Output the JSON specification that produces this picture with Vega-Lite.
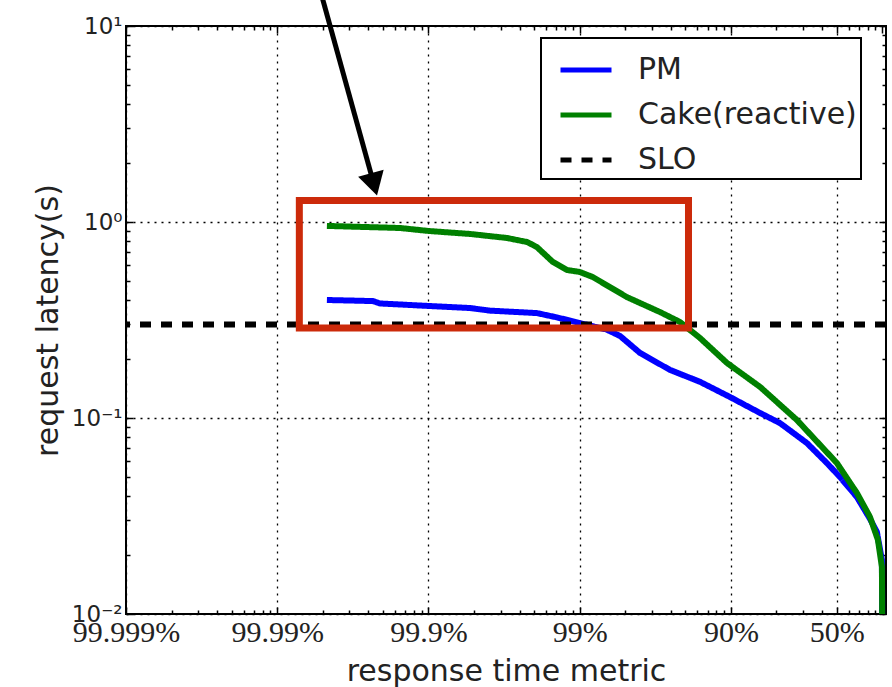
{
  "$schema": "https://vega.github.io/schema/vega-lite/v6.json",
  "width": 760,
  "height": 588,
  "autosize": {"type": "none"},
  "padding": {"left": 126, "top": 26, "right": 6, "bottom": 73},
  "background": "white",
  "config": {
    "font": "DejaVu Sans",
    "view": {"stroke": "#000", "strokeWidth": 2},
    "axis": {"domain": false, "labelFlush": false, "labelOverlap": false, "labelBound": false, "tickColor": "#000", "tickWidth": 1.5},
    "legend": {
      "orient": "none", "legendX": 415, "legendY": 12,
      "strokeColor": "#000", "strokeWidth": 2, "fillColor": "#fff",
      "padding": 4, "symbolOffset": 13, "labelOffset": 24, "labelLimit": 0,
      "labelFont": "DejaVu Sans", "labelFontSize": 30, "labelColor": "#222",
      "symbolType": "stroke", "symbolSize": 2601, "symbolStrokeWidth": 5,
      "rowPadding": 2
    }
  },
  "datasets": {
    "curves": [
      {"series": "PM", "tail": 0.000213, "latency": 0.400},
      {"series": "PM", "tail": 0.000430, "latency": 0.395},
      {"series": "PM", "tail": 0.000478, "latency": 0.384},
      {"series": "PM", "tail": 0.00100, "latency": 0.373},
      {"series": "PM", "tail": 0.00188, "latency": 0.364},
      {"series": "PM", "tail": 0.00255, "latency": 0.353},
      {"series": "PM", "tail": 0.00521, "latency": 0.343},
      {"series": "PM", "tail": 0.00708, "latency": 0.326},
      {"series": "PM", "tail": 0.0100, "latency": 0.305},
      {"series": "PM", "tail": 0.0150, "latency": 0.283},
      {"series": "PM", "tail": 0.0185, "latency": 0.262},
      {"series": "PM", "tail": 0.0250, "latency": 0.215},
      {"series": "PM", "tail": 0.0395, "latency": 0.176},
      {"series": "PM", "tail": 0.0624, "latency": 0.153},
      {"series": "PM", "tail": 0.0985, "latency": 0.128},
      {"series": "PM", "tail": 0.156, "latency": 0.106},
      {"series": "PM", "tail": 0.211, "latency": 0.0942},
      {"series": "PM", "tail": 0.318, "latency": 0.0745},
      {"series": "PM", "tail": 0.431, "latency": 0.0589},
      {"series": "PM", "tail": 0.526, "latency": 0.0500},
      {"series": "PM", "tail": 0.681, "latency": 0.0395},
      {"series": "PM", "tail": 0.830, "latency": 0.0306},
      {"series": "PM", "tail": 0.923, "latency": 0.0262},
      {"series": "PM", "tail": 0.996, "latency": 0.0189},
      {"series": "PM", "tail": 0.999, "latency": 0.012},
      {"series": "PM", "tail": 1.0, "latency": 0.006},
      {"series": "Cake(reactive)", "tail": 0.000213, "latency": 0.955},
      {"series": "Cake(reactive)", "tail": 0.000648, "latency": 0.932},
      {"series": "Cake(reactive)", "tail": 0.00100, "latency": 0.900},
      {"series": "Cake(reactive)", "tail": 0.00188, "latency": 0.869},
      {"series": "Cake(reactive)", "tail": 0.00330, "latency": 0.829},
      {"series": "Cake(reactive)", "tail": 0.00450, "latency": 0.790},
      {"series": "Cake(reactive)", "tail": 0.00521, "latency": 0.745},
      {"series": "Cake(reactive)", "tail": 0.00665, "latency": 0.625},
      {"series": "Cake(reactive)", "tail": 0.00824, "latency": 0.569},
      {"series": "Cake(reactive)", "tail": 0.0100, "latency": 0.556},
      {"series": "Cake(reactive)", "tail": 0.0122, "latency": 0.524},
      {"series": "Cake(reactive)", "tail": 0.0205, "latency": 0.414},
      {"series": "Cake(reactive)", "tail": 0.0340, "latency": 0.347},
      {"series": "Cake(reactive)", "tail": 0.0460, "latency": 0.309},
      {"series": "Cake(reactive)", "tail": 0.0624, "latency": 0.256},
      {"series": "Cake(reactive)", "tail": 0.0941, "latency": 0.191},
      {"series": "Cake(reactive)", "tail": 0.156, "latency": 0.144},
      {"series": "Cake(reactive)", "tail": 0.273, "latency": 0.0977},
      {"series": "Cake(reactive)", "tail": 0.502, "latency": 0.0589},
      {"series": "Cake(reactive)", "tail": 0.681, "latency": 0.0414},
      {"series": "Cake(reactive)", "tail": 0.830, "latency": 0.0313},
      {"series": "Cake(reactive)", "tail": 0.937, "latency": 0.0239},
      {"series": "Cake(reactive)", "tail": 0.996, "latency": 0.0174},
      {"series": "Cake(reactive)", "tail": 0.999, "latency": 0.012},
      {"series": "Cake(reactive)", "tail": 1.0, "latency": 0.006}
    ],
    "slo": [{"series": "SLO", "latency": 0.3}],
    "box": [{"x1": 0.000140, "x2": 0.0524, "y1": 1.287, "y2": 0.288}],
    "arrow": [{"ax": 0.000192, "ay": 15.3}, {"ax": 0.000436, "ay": 1.556}],
    "head": [{"ax": 0.000436, "ay": 1.556}]
  },
  "layer": [
    {
      "data": {"name": "curves"},
      "mark": {"type": "line", "strokeWidth": 6, "clip": true, "strokeJoin": "round"},
      "encoding": {
        "x": {"field": "tail", "type": "quantitative",
          "scale": {"type": "log", "domain": [0.00001, 1.06], "nice": false},
          "axis": {"orient": "bottom", "values": [0.00001, 0.0001, 0.001, 0.01, 0.1, 0.5],
            "labelExpr": "datum.value < 2e-5 ? '99.999%' : datum.value < 2e-4 ? '99.99%' : datum.value < 2e-3 ? '99.9%' : datum.value < 2e-2 ? '99%' : datum.value < 0.2 ? '90%' : '50%'",
            "labelFont": "Liberation Serif", "labelFontSize": 30, "labelColor": "#222", "labelPadding": 10, "labelBaseline": "top",
            "ticks": true, "tickSize": -7,
            "grid": true, "gridColor": "#000", "gridDash": [2, 5], "gridWidth": 1.3,
            "title": "response time metric", "titleFont": "DejaVu Sans", "titleFontSize": 30, "titleFontWeight": "normal", "titleColor": "#222",
            "titleY": 66, "titleBaseline": "alphabetic"}},
        "y": {"field": "latency", "type": "quantitative",
          "scale": {"type": "log", "domain": [0.01, 10], "nice": false},
          "axis": {"orient": "left", "values": [0.01, 0.1, 1, 10],
            "labelExpr": "datum.value < 0.05 ? '10⁻²' : datum.value < 0.5 ? '10⁻¹' : datum.value < 5 ? '10⁰' : '10¹'",
            "labelFont": "DejaVu Sans", "labelFontSize": 23, "labelColor": "#222", "labelPadding": 11,
            "ticks": true, "tickSize": -7,
            "grid": true, "gridColor": "#000", "gridDash": [2, 5], "gridWidth": 1.3,
            "title": "request latency(s)", "titleFont": "DejaVu Sans", "titleFontSize": 30, "titleFontWeight": "normal", "titleColor": "#222",
            "titleX": -69, "titleY": 294, "titleAngle": -90, "titleBaseline": "alphabetic"}},
        "color": {"field": "series", "type": "nominal",
          "scale": {"domain": ["PM", "Cake(reactive)", "SLO"], "range": ["#0000ff", "#008000", "#000000"]},
          "legend": {"title": null}},
        "strokeDash": {"field": "series", "type": "nominal",
          "scale": {"domain": ["PM", "Cake(reactive)", "SLO"], "range": [[1, 0], [1, 0], [11, 10]]},
          "legend": {"title": null}}
      }
    },
    {
      "data": {"name": "slo"},
      "mark": {"type": "rule", "strokeWidth": 6},
      "encoding": {
        "y": {"field": "latency", "type": "quantitative",
          "scale": {"type": "log", "domain": [0.01, 10], "nice": false},
          "axis": {"orient": "left", "labels": false, "grid": false, "title": null, "ticks": true, "tickSize": -4,
            "values": [0.02, 0.03, 0.04, 0.05, 0.06, 0.07, 0.08, 0.09, 0.2, 0.3, 0.4, 0.5, 0.6, 0.7, 0.8, 0.9, 2, 3, 4, 5, 6, 7, 8, 9]}},
        "color": {"field": "series", "type": "nominal",
          "scale": {"domain": ["PM", "Cake(reactive)", "SLO"], "range": ["#0000ff", "#008000", "#000000"]},
          "legend": {"title": null}},
        "strokeDash": {"field": "series", "type": "nominal",
          "scale": {"domain": ["PM", "Cake(reactive)", "SLO"], "range": [[1, 0], [1, 0], [11, 10]]},
          "legend": {"title": null}}
      }
    },
    {
      "data": {"name": "box"},
      "mark": {"type": "rect", "filled": false, "stroke": "#cc2a0a", "strokeWidth": 7},
      "encoding": {
        "x": {"field": "x1", "type": "quantitative",
          "scale": {"type": "log", "domain": [0.00001, 1.06], "nice": false},
          "axis": {"orient": "top", "labels": false, "grid": false, "title": null, "ticks": true, "tickSize": -7,
            "values": [0.00001, 0.0001, 0.001, 0.01, 0.1, 0.5, 1]}},
        "x2": {"field": "x2"},
        "y": {"field": "y1", "type": "quantitative",
          "scale": {"type": "log", "domain": [0.01, 10], "nice": false},
          "axis": {"orient": "right", "labels": false, "grid": false, "title": null, "ticks": true, "tickSize": -7,
            "values": [0.01, 0.1, 1, 10]}},
        "y2": {"field": "y2"}
      }
    },
    {
      "data": {"name": "arrow"},
      "mark": {"type": "line", "stroke": "#000", "strokeWidth": 5, "clip": false},
      "encoding": {
        "x": {"field": "ax", "type": "quantitative",
          "scale": {"type": "log", "domain": [0.00001, 1.06], "nice": false},
          "axis": {"orient": "bottom", "labels": false, "grid": false, "title": null, "ticks": true, "tickSize": -4,
            "values": [2e-5, 3e-5, 4e-5, 5e-5, 6e-5, 7e-5, 8e-5, 9e-5, 2e-4, 3e-4, 4e-4, 5e-4, 6e-4, 7e-4, 8e-4, 9e-4, 0.002, 0.003, 0.004, 0.005, 0.006, 0.007, 0.008, 0.009, 0.02, 0.03, 0.04, 0.05, 0.06, 0.07, 0.08, 0.09, 0.2, 0.3, 0.4, 0.6, 0.7, 0.8, 0.9, 1]}},
        "y": {"field": "ay", "type": "quantitative",
          "scale": {"type": "log", "domain": [0.01, 10], "nice": false},
          "axis": {"orient": "right", "labels": false, "grid": false, "title": null, "ticks": true, "tickSize": -4,
            "values": [0.02, 0.03, 0.04, 0.05, 0.06, 0.07, 0.08, 0.09, 0.2, 0.3, 0.4, 0.5, 0.6, 0.7, 0.8, 0.9, 2, 3, 4, 5, 6, 7, 8, 9]}}
      }
    },
    {
      "data": {"name": "head"},
      "mark": {"type": "point", "shape": "triangle-down", "size": 700, "filled": true, "color": "#000", "opacity": 1, "angle": -15.5, "strokeWidth": 0},
      "encoding": {
        "x": {"field": "ax", "type": "quantitative",
          "scale": {"type": "log", "domain": [0.00001, 1.06], "nice": false},
          "axis": {"orient": "top", "labels": false, "grid": false, "title": null, "ticks": true, "tickSize": -4,
            "values": [2e-5, 3e-5, 4e-5, 5e-5, 6e-5, 7e-5, 8e-5, 9e-5, 2e-4, 3e-4, 4e-4, 5e-4, 6e-4, 7e-4, 8e-4, 9e-4, 0.002, 0.003, 0.004, 0.005, 0.006, 0.007, 0.008, 0.009, 0.02, 0.03, 0.04, 0.05, 0.06, 0.07, 0.08, 0.09, 0.2, 0.3, 0.4, 0.6, 0.7, 0.8, 0.9]}},
        "y": {"field": "ay", "type": "quantitative",
          "scale": {"type": "log", "domain": [0.01, 10], "nice": false},
          "axis": null}
      }
    }
  ],
  "resolve": {"axis": {"x": "independent", "y": "independent"}}
}
